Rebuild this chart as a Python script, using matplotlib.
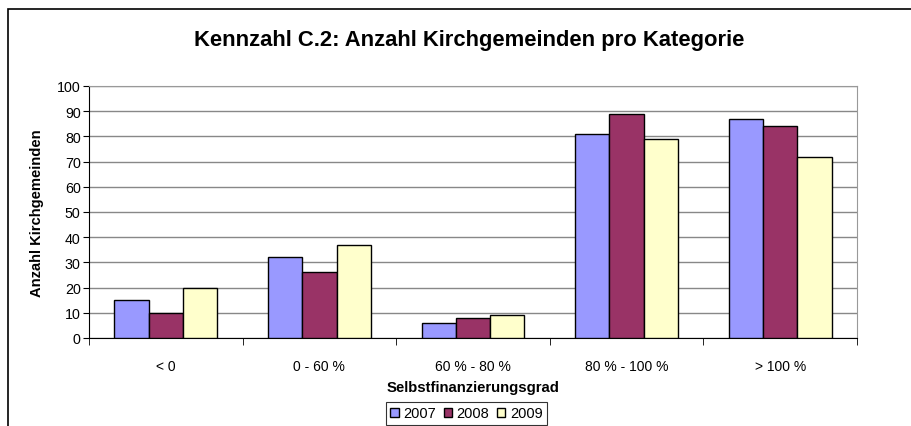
import matplotlib.pyplot as plt
import numpy as np
from matplotlib.patches import Rectangle

plt.rcParams['font.family'] = ['Liberation Sans', 'DejaVu Sans']

categories = ['< 0', '0 - 60 %', '60 % - 80 %', '80 % - 100 %', '> 100 %']
years = ['2007', '2008', '2009']
v2007 = [15, 32, 6, 81, 87]
v2008 = [10, 26, 8, 89, 84]
v2009 = [20, 37, 9, 79, 72]
colors = ['#9999FF', '#993366', '#FFFFCC']

fig = plt.figure(figsize=(9.11, 4.27), dpi=100)
# outer chart border
fig.add_artist(Rectangle((8 / 911, -0.1), 1.0, (427 - 10) / 427 + 0.1,
                         transform=fig.transFigure, fill=False,
                         edgecolor='black', linewidth=1.2))

ax = fig.add_axes([89 / 911, 88 / 427, (857 - 89) / 911, (339.5 - 87.5) / 427])

x = np.arange(len(categories))
w = 0.223
for i, (vals, c, lab) in enumerate(zip([v2007, v2008, v2009], colors, years)):
    ax.bar(x + (i - 1) * w, vals, w, color=c, edgecolor='black',
           linewidth=1.0, label=lab, zorder=3)

ax.set_xlim(-0.5, len(categories) - 0.5)
ax.set_ylim(0, 100)
ax.set_yticks(range(0, 101, 10))
ax.set_xticks(x)
ax.set_xticklabels(categories, fontsize=10)
ax.tick_params(axis='x', length=0, pad=15)
ax.set_xticks(np.arange(-0.5, len(categories), 1), minor=True)
ax.tick_params(axis='x', which='minor', length=5, direction='out', color='black')
ax.tick_params(axis='y', labelsize=10.3, length=4, direction='out', pad=2)
ax.grid(axis='y', color='#888888', linewidth=1.0, zorder=0)

for s in ['top', 'right']:
    ax.spines[s].set_color('#999999')
for s in ['left', 'bottom']:
    ax.spines[s].set_color('black')

ax.set_xlabel('Selbstfinanzierungsgrad', fontsize=10.7, fontweight='bold', labelpad=5)
ax.set_ylabel('Anzahl Kirchgemeinden', fontsize=10.6, fontweight='bold', labelpad=9)

fig.text(469 / 911, 1 - 46 / 427, 'Kennzahl C.2: Anzahl Kirchgemeinden pro Kategorie',
         ha='center', va='baseline', fontsize=15.8, fontweight='bold')

leg = fig.legend(loc='upper center', bbox_to_anchor=(466.5 / 911, 1 - 403 / 427),
                 ncol=3, fontsize=10.5, frameon=True, fancybox=False,
                 handlelength=0.6, handleheight=0.6, handletextpad=0.3,
                 columnspacing=0.5, borderpad=0.3, borderaxespad=0)
leg.get_frame().set_edgecolor('black')
leg.get_frame().set_linewidth(0.8)

fig.savefig('out.png', dpi=100)
